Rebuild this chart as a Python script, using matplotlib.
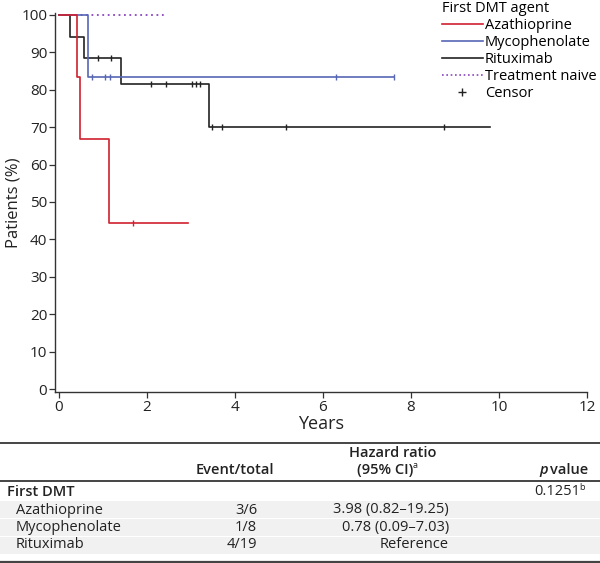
import numpy as np
import matplotlib
matplotlib.use('Agg')
import matplotlib.pyplot as plt
from matplotlib.lines import Line2D
from matplotlib.patches import Rectangle

plt.rcParams['font.family'] = ['Open Sans', 'DejaVu Sans']

# ---- Kaplan-Meier data (years, % patients) ----
aza_t = [0, 0.43, 0.48, 1.15, 2.95]
aza_s = [100, 83.3, 66.7, 44.4, 44.4]
aza_cens = [1.70]

myc_t = [0, 0.68, 7.62]
myc_s = [100, 83.3, 83.3]
myc_cens = [0.76, 1.05, 1.16, 6.30, 7.62]

rtx_t = [0, 0.26, 0.57, 1.41, 3.41, 9.80]
rtx_s = [100, 94.1, 88.5, 81.5, 70.0, 70.0]
rtx_cens = [0.90, 1.19, 2.09, 2.45, 3.04, 3.13, 3.22, 3.48, 3.72, 5.17, 8.75]

naive_t = [0, 2.47]
naive_s = [100, 100]

x_ticks = [0, 2, 4, 6, 8, 10, 12]
y_ticks = list(range(0, 101, 10))

# ---- Table data ----
tbl_group = 'First DMT'
tbl_rows = ['Azathioprine', 'Mycophenolate', 'Rituximab']
tbl_events = ['3/6', '1/8', '4/19']
tbl_hr = ['3.98 (0.82–19.25)', '0.78 (0.09–7.03)', 'Reference']
tbl_p = '0.1251'

C_AZA = '#d0202e'
C_MYC = '#5666b4'
C_RTX = '#222222'
C_NAI = '#8a45c0'

W, H = 600, 563
fig = plt.figure(figsize=(W / 100, H / 100), dpi=100)

def fy(p):
    return 1 - p / H

def fx(p):
    return p / W

ax = fig.add_axes([fx(55), fy(392), fx(587) - fx(55), fy(13) - fy(392)])
ax.set_xlim(-0.08, 12)
ax.set_ylim(-0.8, 100.5)

def surv_at(ts, ss, c):
    i = np.searchsorted(ts, c, side='right') - 1
    return ss[max(i, 0)]

ax.step(naive_t, naive_s, where='post', color=C_NAI, lw=1.3, ls=(0, (1, 2)), zorder=2)
for ts, ss, cens, col, z in [(rtx_t, rtx_s, rtx_cens, C_RTX, 3),
                              (myc_t, myc_s, myc_cens, C_MYC, 4),
                              (aza_t, aza_s, aza_cens, C_AZA, 5)]:
    ax.step(ts, ss, where='post', color=col, lw=1.2, zorder=z)
    cy = [surv_at(ts, ss, c) for c in cens]
    ax.plot(cens, cy, ls='none', marker='|', ms=5, mew=1.0, color=col, zorder=z)

ax.set_xticks(x_ticks)
ax.set_yticks(y_ticks)
ax.tick_params(axis='both', labelsize=11, length=4, width=0.9, color='#333333',
               labelcolor='#222222', pad=1.5)
for s in ['top', 'right']:
    ax.spines[s].set_visible(False)
for s in ['left', 'bottom']:
    ax.spines[s].set_linewidth(1.0)
    ax.spines[s].set_color('#333333')
ax.set_xlabel('Years', fontsize=13, labelpad=0, color='#222222')
ax.set_ylabel('Patients (%)', fontsize=12, labelpad=0, color='#222222')

handles = [Line2D([], [], color=C_AZA, lw=1.2),
           Line2D([], [], color=C_MYC, lw=1.2),
           Line2D([], [], color=C_RTX, lw=1.2),
           Line2D([], [], color=C_NAI, lw=1.2, ls=(0, (1, 1.6))),
           Line2D([], [], color='#222222', ls='none', marker='+', ms=6, mew=1.0)]
labels = ['Azathioprine', 'Mycophenolate', 'Rituximab', 'Treatment naive', 'Censor']
leg = fig.legend(handles, labels, title='First DMT agent', loc='upper left',
                 bbox_to_anchor=(fx(442), fy(0.5)), frameon=False, fontsize=10.5,
                 title_fontsize=10.5, handlelength=2.8, handletextpad=0.15,
                 labelspacing=0.14, borderpad=0, borderaxespad=0, alignment='left')
leg._legend_box.sep = 2

# ---- Table ----
band_color = '#f1f1f1'
for (t, b) in [(500.7, 518.3), (519.3, 536.3), (537.3, 554.3)]:
    fig.patches.append(Rectangle((0, fy(b)), 1, fy(t) - fy(b), transform=fig.transFigure,
                                 facecolor=band_color, edgecolor='none', zorder=0))
for yy, lw in [(443, 1.4), (481, 1.4), (561.5, 1.6)]:
    fig.add_artist(Line2D([0, 1], [fy(yy), fy(yy)], transform=fig.transFigure,
                          color='#444444', lw=lw))

fs = 10.5
tc = '#222222'
hw = 'semibold'
fig.text(fx(393), fy(453), 'Hazard ratio', ha='center', va='center', fontsize=fs, color=tc, weight=hw)
fig.text(fx(385), fy(470), '(95% CI)', ha='center', va='center', fontsize=fs, color=tc, weight=hw)
fig.text(fx(413), fy(466), 'a', ha='left', va='center', fontsize=6.5, color=tc)
fig.text(fx(274), fy(470), 'Event/total', ha='right', va='center', fontsize=fs, color=tc, weight=hw)
fig.text(fx(588), fy(470), 'value', ha='right', va='center', fontsize=fs, color=tc, weight=hw)
fig.text(fx(548), fy(470), 'p', ha='right', va='center', fontsize=fs, color=tc,
         style='italic', weight=hw)
fig.text(fx(7), fy(491.5), tbl_group, ha='left', va='center', fontsize=fs, color=tc, weight=hw)
fig.text(fx(580), fy(491.5), tbl_p, ha='right', va='center', fontsize=fs, color=tc)
fig.text(fx(579.5), fy(488), 'b', ha='left', va='center', fontsize=6.5, color=tc)
for i, ypx in enumerate([510, 527.5, 545]):
    fig.text(fx(16), fy(ypx), tbl_rows[i], ha='left', va='center', fontsize=fs, color=tc)
    fig.text(fx(257), fy(ypx), tbl_events[i], ha='right', va='center', fontsize=fs, color=tc)
    fig.text(fx(449), fy(ypx), tbl_hr[i], ha='right', va='center', fontsize=fs, color=tc)

fig.savefig('out.png', dpi=100)
